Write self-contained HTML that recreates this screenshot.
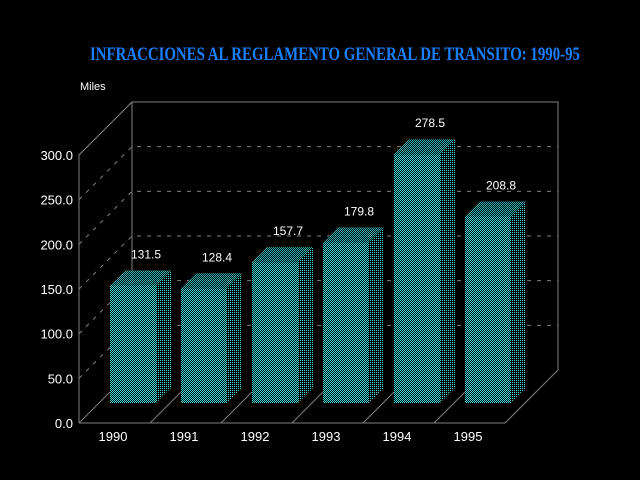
<!DOCTYPE html>
<html><head><meta charset="utf-8"><style>
html,body{margin:0;padding:0;background:#000;width:640px;height:480px;overflow:hidden}
svg text{font-family:"Liberation Sans",sans-serif}
</style></head><body>
<svg id="chart" width="640" height="480" xmlns="http://www.w3.org/2000/svg">
<defs>
<pattern id="chk" width="2" height="2" patternUnits="userSpaceOnUse"><rect width="2" height="2" fill="#000"/><rect width="1" height="1" fill="#40e0e0"/><rect x="1" y="1" width="1" height="1" fill="#40e0e0"/></pattern>
<pattern id="dots" width="2" height="2" patternUnits="userSpaceOnUse"><rect width="2" height="2" fill="#000"/><rect width="1" height="1" fill="#40e0e0"/></pattern>
</defs>
<text x="335" y="60" text-anchor="middle" fill="#1a7fff" font-family="Liberation Serif, serif" font-weight="bold" font-size="19" textLength="490" lengthAdjust="spacingAndGlyphs" style="font-family:'Liberation Serif',serif">INFRACCIONES AL REGLAMENTO GENERAL DE TRANSITO: 1990-95</text>
<text x="80" y="90" fill="#fff" font-size="11">Miles</text>
<g id="frame"></g>
<g id="bars"></g>
</svg>
<script>
const categories = ["1990","1991","1992","1993","1994","1995"];
const values = [131.5,128.4,157.7,179.8,278.5,208.8];
const yTicks = [0,50,100,150,200,250,300];
const yTickLabels = ["0.0","50.0","100.0","150.0","200.0","250.0","300.0"];

const NS="http://www.w3.org/2000/svg";
const X0=79, Y0=423, SC=268/300, DX=53, DY=-53, FW=426;
function yF(v){return Y0 - v*SC;}
function mk(tag,attrs,parent){const e=document.createElementNS(NS,tag);for(const k in attrs)e.setAttribute(k,attrs[k]);parent.appendChild(e);return e;}
const frame=document.getElementById('frame'), bars=document.getElementById('bars');
const G="#808080";
// walls
mk('polyline',{points:`${X0},${Y0} ${X0},${yF(300)} ${X0+DX},${yF(300)+DY} ${X0+DX+FW},${yF(300)+DY} ${X0+DX+FW},${Y0+DY} ${X0+FW},${Y0} ${X0},${Y0}`,fill:'none',stroke:G,'stroke-width':1},frame);
mk('line',{x1:X0+DX,y1:yF(300)+DY,x2:X0+DX,y2:Y0+DY,stroke:G},frame);
yTicks.forEach((t,i)=>{
  const y=yF(t);
  if(t>0){
    const g=mk('polyline',{points:`${X0},${y} ${X0+DX},${y+DY} ${X0+DX+FW},${y+DY}`,fill:'none',stroke:G,'stroke-dasharray':'4,6'},frame);
    
    
  }
  const tx=mk('text',{x:73,y:y+5,'text-anchor':'end',fill:'#fff','font-size':13},frame);
  
  
  tx.textContent=yTickLabels[i];
});
const step=FW/categories.length, BW=46, BD=15, OFF=21;
categories.forEach((c,i)=>{
  const fx=X0+step*i;
  mk('line',{x1:fx,y1:Y0,x2:fx+OFF+10,y2:Y0-OFF-10,stroke:G},frame);
  const x=fx+31, yb=Y0-OFF+1, yt=yb-values[i]*SC;
  const g=mk('g',{},bars);
  
  
  mk('rect',{x:x,y:yt,width:BW,height:yb-yt,fill:'url(#chk)'},g);
  mk('polygon',{points:`${x},${yt} ${x+BD},${yt-BD} ${x+BW+BD},${yt-BD} ${x+BW},${yt}`,fill:'url(#chk)',opacity:0.8},g);
  mk('polygon',{points:`${x+BW},${yt} ${x+BW+BD},${yt-BD} ${x+BW+BD},${yb-BD} ${x+BW},${yb}`,fill:'url(#dots)'},g);
  const vl=mk('text',{x:x+BW/2+13,y:yt-BD-12,'text-anchor':'middle',fill:'#fff','font-size':12},g);
  
  
  vl.textContent=values[i].toFixed(1);
  const cl=mk('text',{x:fx+34,y:441,'text-anchor':'middle',fill:'#fff','font-size':13},frame);
  
  
  cl.textContent=c;
});
</script>
</body></html>
